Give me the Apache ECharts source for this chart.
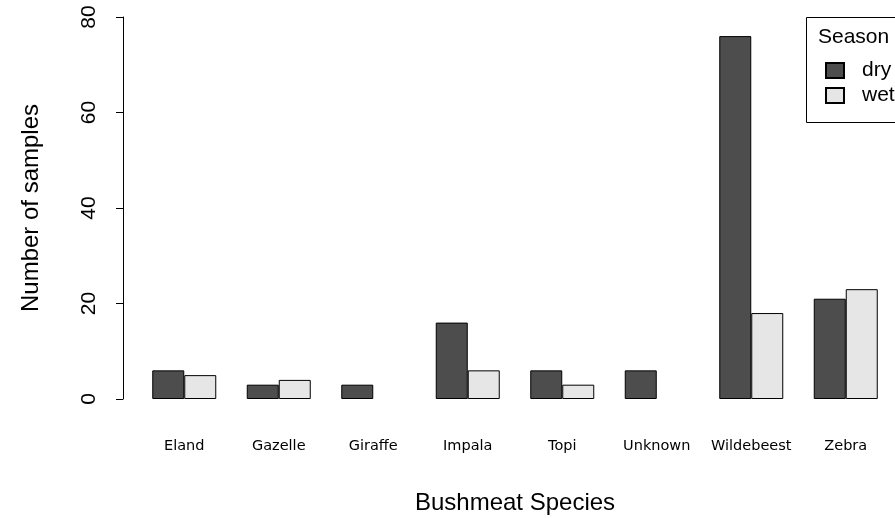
<!DOCTYPE html>
<html>
<head>
<meta charset="utf-8">
<title>Bushmeat samples by species and season</title>
<script src="https://cdn.jsdelivr.net/npm/echarts@6/dist/echarts.min.js"></script>
<style>
  html, body { margin: 0; padding: 0; background: #ffffff; }
  #chart { width: 895px; height: 518px; }
</style>
</head>
<body>
<div id="chart"></div>
<script>
// Bushmeat species sampled, split by season
const species = ['Eland', 'Gazelle', 'Giraffe', 'Impala', 'Topi', 'Unknown', 'Wildebeest', 'Zebra'];
const drySeason = [6, 3, 3, 16, 6, 6, 76, 21];
const wetSeason = [5, 4, 0, 6, 3, 0, 18, 23];
const yTicks = [0, 20, 40, 60, 80];

const FONT = '"Liberation Sans", Arial, sans-serif';

// empty counts get no bar at all (no flat outline on the baseline)
const asBars = (values) => values.map((v) => (v === 0 ? '-' : v));

const chart = echarts.init(document.getElementById('chart'), null, { renderer: 'canvas' });

const barStyle = (fill) => ({ color: fill, borderColor: '#000000', borderWidth: 1 });

chart.setOption({
  backgroundColor: '#ffffff',
  animation: false,
  grid: { left: 137, width: 756, top: 17, bottom: 119, containLabel: false, outerBoundsMode: 'none' },
  xAxis: {
    type: 'category',
    data: species,
    axisLine: { show: false },
    axisTick: { show: false },
    axisLabel: { interval: 0, margin: 40, color: '#000', fontFamily: '"DejaVu Sans", sans-serif', fontSize: 14.5 },
    name: 'Bushmeat Species',
    nameLocation: 'middle',
    nameGap: 92,
    nameTextStyle: { color: '#000', fontFamily: FONT, fontSize: 24 }
  },
  yAxis: {
    type: 'value',
    min: yTicks[0],
    max: yTicks[yTicks.length - 1],
    interval: yTicks[1] - yTicks[0],
    offset: 14,
    axisLine: { show: true, lineStyle: { color: '#000', width: 1 } },
    axisTick: { show: true, length: 7, lineStyle: { color: '#000', width: 1 } },
    splitLine: { show: false },
    axisLabel: { rotate: 90, margin: 23, color: '#000', fontFamily: FONT, fontSize: 21 },
    name: 'Number of samples',
    nameLocation: 'middle',
    nameGap: 80,
    nameRotate: 90,
    nameTextStyle: { color: '#000', fontFamily: FONT, fontSize: 24 }
  },
  legend: {
    orient: 'vertical',
    left: 825,
    top: 60,
    padding: 0,
    itemWidth: 18,
    itemHeight: 15,
    itemGap: 4,
    icon: 'rect',
    data: ['dry', 'wet'],
    textStyle: { color: '#000', fontFamily: FONT, fontSize: 21, padding: [0, 0, 0, 13] }
  },
  graphic: [
    {
      type: 'rect',
      shape: { x: 806.5, y: 17.5, width: 120, height: 105 },
      style: { fill: 'none', stroke: '#000', lineWidth: 1 },
      silent: true
    },
    {
      type: 'text',
      left: 818,
      top: 27,
      style: { text: 'Season', fill: '#000', font: '21px ' + FONT }
    }
  ],
  series: [
    {
      name: 'dry',
      type: 'bar',
      data: asBars(drySeason),
      barWidth: 32,
      barGap: '0%',
      itemStyle: barStyle('#4D4D4D')
    },
    {
      name: 'wet',
      type: 'bar',
      data: asBars(wetSeason),
      barWidth: 32,
      barGap: '0%',
      itemStyle: barStyle('#E6E6E6')
    }
  ]
});
</script>
</body>
</html>
